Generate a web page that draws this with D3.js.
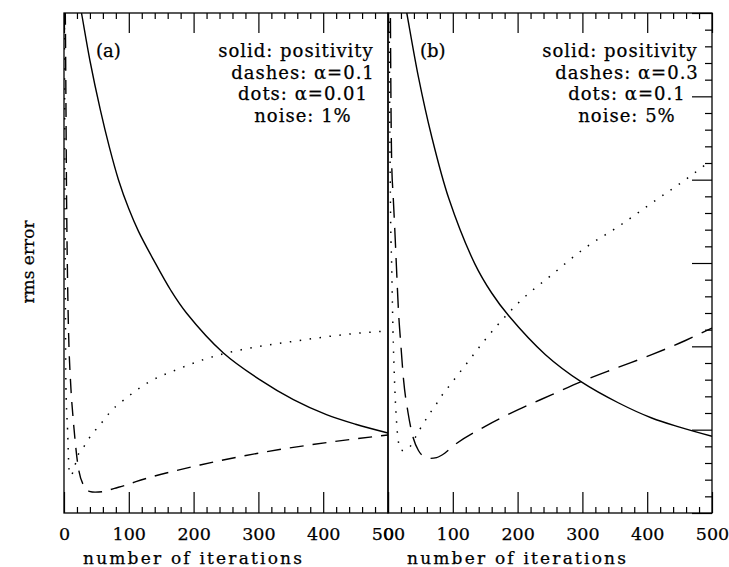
<!DOCTYPE html>
<html>
<head>
<meta charset="utf-8">
<script src="https://cdn.jsdelivr.net/npm/d3@7"></script>
<style>
  body { margin: 0; background: #fff; }
  svg { display: block; }
  text { font-family: "DejaVu Serif", serif; fill: #000; stroke: #000; stroke-width: 0.25px; }
</style>
</head>
<body>
<div id="chart"></div>
<script>
// iterations on x, rms error (arbitrary units) on y
const xTicks = [0, 100, 200, 300, 400, 500];

// panel (a): noise 1%
const aSolid = [[20,6.3],[27,6.0],[40,5.43],[56,4.84],[70,4.39],[84,4.0],[100,3.65],[115,3.38],[138,3.04],[165,2.67],[189,2.40],[246,1.92],[302,1.60],[354,1.36],[405,1.18],[450,1.065],[500,0.96]];
const aDashed = [[1.5,6.3],[2,6.0],[4,3.76],[6,2.56],[10.8,1.48],[13.4,1.2],[17,0.88],[21,0.6],[31,0.32],[39,0.26],[48,0.25],[60,0.256],[78,0.296],[96,0.336],[111,0.376],[210,0.576],[313,0.736],[416,0.856],[500,0.936]];
const aDotted = [[0.5,6.3],[1.5,3.8],[3,1.5],[5.5,1.0],[8,0.5],[11,0.45],[15,0.52],[21,0.68],[31,0.80],[39,0.90],[49,1.0],[60,1.10],[70,1.2],[80,1.28],[93,1.36],[106,1.44],[133,1.58],[174,1.72],[215,1.84],[246,1.91],[274,1.96],[354,2.06],[457,2.16],[490,2.18]];

// panel (b): noise 5%
const bSolid = [[22,6.3],[29,6.0],[47,5.23],[67,4.53],[94,3.77],[134,2.99],[160,2.64],[186,2.37],[243,1.90],[299,1.57],[356,1.32],[407,1.14],[450,1.03],[500,0.92]];
const bDashed = [[3.5,6.3],[4.5,5.0],[5.7,4.2],[8,3.8],[10.5,3.4],[13,2.96],[16,2.45],[20,2.0],[24,1.6],[31,1.2],[39,0.9],[47,0.75],[55,0.68],[65,0.655],[75,0.665],[88,0.72],[100,0.8],[150,1.04],[201,1.24],[253,1.42],[299,1.58],[356,1.75],[407,1.9],[459,2.07],[500,2.22]];
const bDotted = [[1.5,6.5],[2.5,5.0],[4,3.56],[5.7,2.96],[7.2,2.36],[9.3,1.76],[10.5,1.5],[13,1.12],[15.6,0.88],[20,0.756],[25,0.75],[32,0.78],[48,0.99],[65,1.2],[74,1.3],[83,1.41],[93,1.51],[120,1.78],[150,2.08],[186,2.40],[201,2.52],[253,2.86],[304,3.18],[356,3.44],[407,3.72],[459,4.0],[490,4.18]];

const aLegend = ["solid: positivity", "dashes: \u03b1=0.1", "dots: \u03b1=0.01", "noise: 1%"];
const bLegend = ["solid: positivity", "dashes: \u03b1=0.3", "dots: \u03b1=0.1", "noise: 5%"];

const width = 729, height = 567;
const plotTop = 13, plotBottom = 513, panelW = 324;

const svg = d3.select('#chart').append('svg').attr('width', width).attr('height', height);

const y = d3.scaleLinear().domain([0, 6]).range([plotBottom, plotTop]);

const panels = [
  { id: 'a', x0: 64, label: '(a)', legend: aLegend, solid: aSolid, dashed: aDashed, dotted: aDotted, dash: '14,9' },
  { id: 'b', x0: 388, label: '(b)', legend: bLegend, solid: bSolid, dashed: bDashed, dotted: bDotted, dash: '20,10' }
];

panels.forEach((p, i) => {
  const x = d3.scaleLinear().domain([0, 500]).range([p.x0, p.x0 + panelW]);
  const minor = d3.range(0, 501, 20).filter(v => v % 100 !== 0);

  svg.append('clipPath').attr('id', 'clip-' + p.id)
    .append('rect').attr('x', p.x0).attr('y', plotTop).attr('width', panelW).attr('height', plotBottom - plotTop);

  // bottom axis, ticks pointing in
  const gb = svg.append('g').attr('transform', `translate(0,${plotBottom})`)
    .call(d3.axisBottom(x).tickValues(xTicks).tickSize(-21).tickPadding(15).tickFormat(d3.format('d')));
  svg.append('g').attr('transform', `translate(0,${plotBottom})`)
    .call(d3.axisBottom(x).tickValues(minor).tickSize(-6).tickFormat(''));
  // top axis
  svg.append('g').attr('transform', `translate(0,${plotTop})`)
    .call(d3.axisTop(x).tickValues(xTicks).tickSize(-20).tickFormat(''));
  svg.append('g').attr('transform', `translate(0,${plotTop})`)
    .call(d3.axisTop(x).tickValues(minor).tickSize(-6).tickFormat(''));

  if (i === 1) {
    svg.append('g').attr('transform', `translate(${p.x0 + panelW},0)`)
      .call(d3.axisRight(y).tickValues(d3.range(0, 7)).tickSize(-20).tickFormat(''));
    svg.append('g').attr('transform', `translate(${p.x0 + panelW},0)`)
      .call(d3.axisRight(y).tickValues(d3.range(0, 30).map(v => v / 5).filter(v => v % 1 !== 0)).tickSize(-7).tickFormat(''));
  }

  svg.selectAll('.domain').remove();
  svg.selectAll('.tick line').attr('stroke', '#000').attr('stroke-width', 1.2);
  gb.selectAll('text').style('font-size', '17.5px').attr('fill', '#000');

  // frame
  svg.append('rect').attr('x', p.x0).attr('y', plotTop).attr('width', panelW).attr('height', plotBottom - plotTop)
    .attr('fill', 'none').attr('stroke', '#000').attr('stroke-width', 1.3);

  const line = d3.line().x(d => x(d[0])).y(d => y(d[1])).curve(d3.curveMonotoneX);
  const smooth = d3.line().x(d => x(d[0])).y(d => y(d[1])).curve(d3.curveCatmullRom.alpha(0.5));
  const g = svg.append('g').attr('clip-path', `url(#clip-${p.id})`);
  g.append('path').attr('d', smooth(p.solid)).attr('fill', 'none').attr('stroke', '#000').attr('stroke-width', 1.4);
  g.append('path').attr('d', line(p.dashed)).attr('fill', 'none').attr('stroke', '#000').attr('stroke-width', 1.4)
    .attr('stroke-dasharray', p.dash);
  g.append('path').attr('d', line(p.dotted)).attr('fill', 'none').attr('stroke', '#000').attr('stroke-width', 1.5)
    .attr('stroke-dasharray', '1.5,8.5');

  // panel label and legend
  svg.append('text').attr('x', p.x0 + 32).attr('y', 57).style('font-size', '18px').text(p.label);
  svg.append('g').selectAll('text').data(p.legend).join('text')
    .attr('x', (d, j) => p.x0 + (j === 0 ? 232 : 239))
    .attr('y', (d, j) => 57 + j * 21.5)
    .attr('text-anchor', 'middle')
    .style('font-size', '18px')
    .style('letter-spacing', '1px')
    .text(d => d);

  svg.append('text').attr('x', p.x0 + 19).attr('y', 564)
    .style('font-size', '17px').style('letter-spacing', '2.2px')
    .text('number of iterations');
});

svg.append('text')
  .attr('transform', 'translate(34,262) rotate(-90)')
  .attr('text-anchor', 'middle')
  .style('font-size', '17px')
  .text('rms error');
</script>
</body>
</html>
